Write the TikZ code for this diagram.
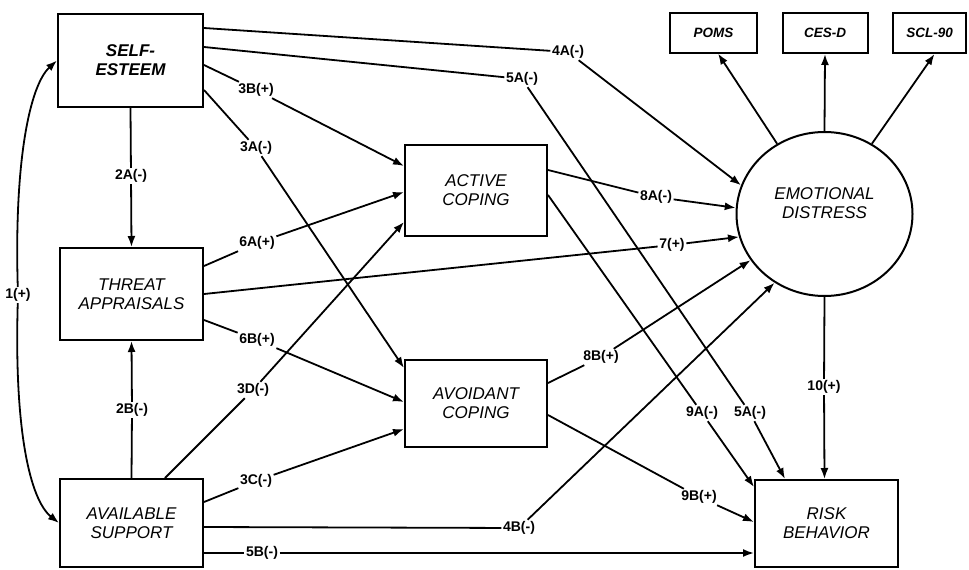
\documentclass[tikz,border=0pt]{standalone}
\usepackage{fontspec}
\setmainfont{Liberation Sans}
\usetikzlibrary{arrows.meta,shapes.geometric,calc}
\begin{document}
\begin{tikzpicture}[x=1pt,y=-1pt,
  box/.style={draw,line width=2pt,inner sep=0pt,align=center,font=\fontsize{17}{19}\selectfont\itshape},
  sebox/.style={box,font=\fontsize{17}{19}\selectfont\bfseries\itshape},
  mbox/.style={draw,line width=2pt,inner sep=0pt,minimum height=40pt,font=\fontsize{13.5}{15}\selectfont\bfseries\itshape},
  lbl/.style={inner sep=1.5pt,font=\fontsize{14}{15}\selectfont\bfseries},
  plain/.style={line width=1.8pt},
  conn/.style={line width=1.8pt,-{Latex[length=11pt,width=8pt]}},
  rconn/.style={line width=1.8pt,{Latex[length=11pt,width=8pt]}-}
]
\useasboundingbox (0,0) rectangle (969,570);

% main nodes
\node[sebox,minimum width=145pt,minimum height=93pt] (SE) at (130.5,60.5) {SELF-\\ESTEEM};
\node[box,minimum width=143pt,minimum height=92pt] (TA) at (131.5,294) {THREAT\\APPRAISALS};
\node[box,minimum width=143pt,minimum height=88pt] (AS) at (131.5,523) {AVAILABLE\\SUPPORT};
\node[box,minimum width=142pt,minimum height=91pt] (AC) at (476,190.5) {ACTIVE\\COPING};
\node[box,minimum width=142pt,minimum height=87pt] (AV) at (476,403.5) {AVOIDANT\\COPING};
\node[draw,ellipse,line width=2pt,minimum width=176pt,minimum height=164pt,inner sep=0pt,
  label={[yshift=11pt,align=center,font=\fontsize{17}{19}\selectfont\itshape]center:EMOTIONAL\\DISTRESS}] (ED) at (824.5,214) {};
\node[box,minimum width=143pt,minimum height=87pt] (RB) at (826.5,523.5) {RISK\\BEHAVIOR};
\node[mbox,minimum width=87pt] (POMS) at (713.5,32.5) {POMS};
\node[mbox,minimum width=85pt] (CESD) at (825,33) {CES-D};
\node[mbox,minimum width=73pt] (SCL) at (929.5,33) {SCL-90};

% labels
\node[lbl] (L1) at (18,295) {1(+)};
\node[lbl] (L2A) at (131,176) {2A(-)};
\node[lbl] (L2B) at (132,410) {2B(-)};
\node[lbl] (L3B) at (256,90) {3B(+)};
\node[lbl] (L3A) at (256,148) {3A(-)};
\node[lbl] (L6A) at (257,243) {6A(+)};
\node[lbl] (L6B) at (257,340) {6B(+)};
\node[lbl] (L3D) at (253,390) {3D(-)};
\node[lbl] (L3C) at (256,481) {3C(-)};
\node[lbl] (L5B) at (262,553) {5B(-)};
\node[lbl] (L4B) at (519,528) {4B(-)};
\node[lbl] (L4A) at (568,52) {4A(-)};
\node[lbl] (L5A1) at (522,79) {5A(-)};
\node[lbl] (L5A2) at (750,413) {5A(-)};
\node[lbl] (L8A) at (656,197) {8A(-)};
\node[lbl] (L7) at (672,245) {7(+)};
\node[lbl] (L8B) at (601,357) {8B(+)};
\node[lbl] (L9A) at (702,413) {9A(-)};
\node[lbl] (L9B) at (699,497) {9B(+)};
\node[lbl] (L10) at (824,387) {10(+)};

% 1(+)
\draw[rconn] (SE.west) .. controls (30,85) and (14,160) .. (L1);
\draw[conn] (L1) .. controls (14,430) and (30,500) .. (AS.west);
% 2A, 2B
\draw[plain] (SE.south) -- (L2A);
\draw[conn] (L2A) -- (TA.north);
\draw[plain] (AS.north) -- (L2B);
\draw[conn] (L2B) -- (TA.south);
% 3B, 3A
\draw[plain] ([yshift=-4.5pt]SE.east) -- (L3B);
\draw[conn] (L3B) -- ([yshift=24.5pt]AC.west);
\draw[plain] ([yshift=-29.5pt]SE.east) -- (L3A);
\draw[conn] (L3A) -- ([yshift=35.5pt]AV.west);
% 4A, 5A
\draw[plain] ([yshift=32.5pt]SE.east) -- (L4A);
\draw[conn] (L4A) -- (ED.161);
\draw[plain] ([yshift=13.5pt]SE.east) -- (L5A1);
\draw[plain] (L5A1) -- (L5A2);
\draw[conn] (L5A2) -- ([xshift=-41.5pt]RB.north);
% 6A, 7, 6B
\draw[plain] ([yshift=28pt]TA.east) -- (L6A);
\draw[conn] (L6A) -- ([yshift=-1.5pt]AC.west);
\draw[plain] (TA.east) -- (L7);
\draw[conn] (L7) -- (ED.195);
\draw[plain] ([yshift=-26pt]TA.east) -- (L6B);
\draw[conn] (L6B) -- ([yshift=1.5pt]AV.west);
% 3D, 3C, 4B, 5B
\draw[plain] ([xshift=33.5pt]AS.north) -- (L3D);
\draw[conn] (L3D) -- ([yshift=-31.5pt]AC.west);
\draw[plain] ([yshift=21pt]AS.east) -- (L3C);
\draw[conn] (L3C) -- ([yshift=-25.5pt]AV.west);
\draw[plain] ([yshift=-4pt]AS.east) -- (L4B);
\draw[conn] (L4B) -- (ED.234);
\draw[plain] ([yshift=-30pt]AS.east) -- (L5B);
\draw[conn] (L5B) -- ([yshift=-29.5pt]RB.west);
% 8A, 9A, 8B, 9B
\draw[plain] ([yshift=20.5pt]AC.east) -- (L8A);
\draw[conn] (L8A) -- (ED.176);
\draw[plain] ([yshift=-4.5pt]AC.east) -- (L9A);
\draw[conn] (L9A) -- ([yshift=36.5pt]RB.west);
\draw[plain] ([yshift=20.5pt]AV.east) -- (L8B);
\draw[conn] (L8B) -- (ED.212);
\draw[plain] ([yshift=-11.5pt]AV.east) -- (L9B);
\draw[conn] (L9B) -- ([yshift=1.5pt]RB.west);
% 10
\draw[plain] (ED.south) -- (L10);
\draw[conn] (L10) -- (ED.south |- RB.north);
% measures
\draw[conn] (ED.124) -- ([xshift=4.5pt]POMS.south);
\draw[conn] (ED.north) -- (CESD.south);
\draw[conn] (ED.56) -- ([xshift=5pt]SCL.south);
\end{tikzpicture}
\end{document}
